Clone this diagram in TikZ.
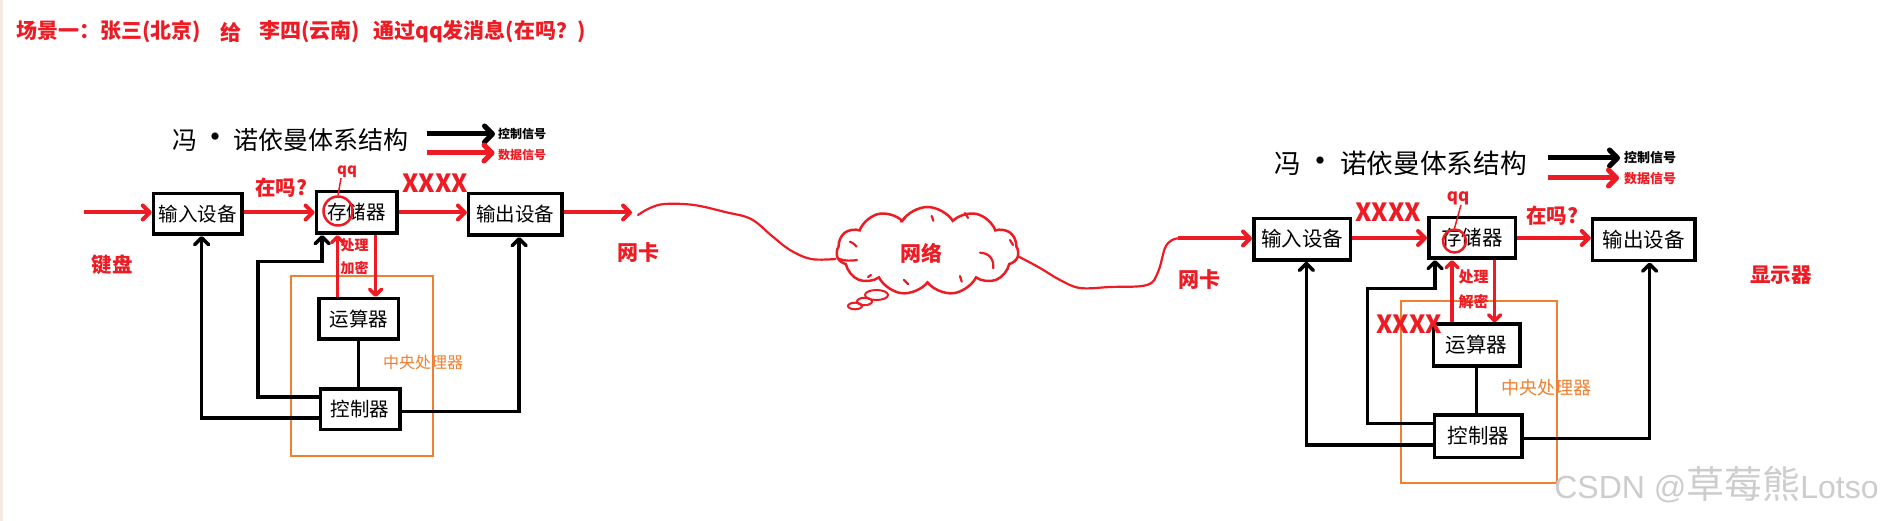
\documentclass[tikz,border=0pt]{standalone}
\usepackage{fontspec}
\usetikzlibrary{arrows.meta,shapes.symbols,calc}
\newfontfamily\cjk{Noto Sans CJK SC}
\newfontfamily\lat{Liberation Sans}
\definecolor{pred}{RGB}{237,28,36}
\definecolor{porange}{RGB}{240,128,48}
\definecolor{wmgray}{RGB}{205,205,205}
\definecolor{edgebeige}{RGB}{243,234,225}
\newcommand\fsz[1]{\fontsize{#1}{#1}\selectfont}
\newcommand\vndot{\makebox[1.44em]{\fontsize{34}{34}\selectfont •}}
\begin{document}
\begin{tikzpicture}[x=1pt,y=-1pt,
  box/.style={draw=black, line width=3.5pt, fill=white, inner sep=0pt, font=\cjk\fsz{19.5}},
  boxb/.style={box, font=\cjk\fsz{20.5}},
  redarr/.style={draw=pred, line width=4pt, -{Straight Barb[length=7pt,width=14pt,round]}},
  blkarr/.style={draw=black, line width=3.5pt, -{Straight Barb[length=7pt,width=14pt,round]}},
  blkline/.style={draw=black, line width=3pt},
  redline/.style={draw=pred, line width=3.5pt, -{Straight Barb[length=6pt,width=12pt,round]}},
  wire/.style={draw=pred, line width=2.2pt, line cap=round},
  curl/.style={draw=pred, line width=2.2pt, line cap=round},
  lbl/.style={text=pred, font=\cjk\bfseries\fsz{20.5}, inner sep=0pt},
  lblx/.style={text=pred, font=\cjk\bfseries\fsz{25}, inner sep=0pt},
  orng/.style={draw=porange, line width=2pt, inner sep=0pt},
  orngtxt/.style={text=porange, font=\cjk\fsz{16}, inner sep=0pt},
  legtxt/.style={font=\cjk\bfseries\fsz{12}, inner sep=0pt, anchor=west},
  legblk/.style={draw=black, line width=5pt, -{Straight Barb[length=8pt,width=16pt,round]}},
  legred/.style={draw=pred, line width=5pt, -{Straight Barb[length=8pt,width=16pt,round]}},
  ttl/.style={font=\cjk\fsz{25}, inner sep=0pt},
  toptxt/.style={text=pred, font=\cjk\bfseries\fsz{21}, inner sep=0pt, anchor=west}
]
\useasboundingbox (0,0) rectangle (1888,521);
\fill[white] (0,0) rectangle (1888,521);
\fill[edgebeige] (0,0) rectangle (2.5,521);

% ---------- top heading ----------
\node[toptxt] (t1) at (16,32) {场景一：张三(北京)};
\node[toptxt] (t2) at (220,32) {给};
\node[toptxt] (t3) at (259,32) {李四(云南)};
\node[toptxt] (t4) at (373,32) {通过qq发消息(在吗？)};

% ---------- left diagram ----------
\node[ttl] (ttl1) at (290.7,140) {冯\vndot 诺依曼体系结构};
\coordinate (lga1) at (426.5,134);
\coordinate (lgb1) at (426.5,153);
\node[legtxt] (lgt1) at (498,134) {控制信号};
\node[legtxt, text=pred] (lgu1) at (498,155) {数据信号};
\draw[legblk] (lga1) -- ([xshift=-3pt]lgt1.west);
\draw[legred] (lgb1) -- ($(lgb1)+(68,0)$);

\node[orng, minimum width=142pt, minimum height=180pt] (cpu1) at (362,366) {};
\node[orngtxt] (cpt1) at (423,362) {中央处理器};

\node[box, minimum width=88.5pt, minimum height=40.5pt] (in1) at (197.7,214) {输入设备};
\node[box, minimum width=80.5pt, minimum height=41.5pt] (mem1) at (356.6,212.5) {存储器};
\node[box, minimum width=93.5pt, minimum height=41.5pt] (out1) at (515.4,214.5) {输出设备};
\node[box, minimum width=79.5pt, minimum height=40.5pt] (alu1) at (358.9,319) {运算器};
\node[box, minimum width=79.5pt, minimum height=40.5pt] (ctl1) at (360,409) {控制器};

\coordinate (k1) at (83.7,212.5);
\coordinate (k2) at (632,212.5);
\draw[redarr] (k1) -- (k1 -| in1.west);
\draw[redarr] (in1.east |- mem1.west) -- (mem1.west);
\draw[redarr] (mem1.east) -- (mem1.east -| out1.west);
\draw[redarr] (out1.east |- k2) -- (k2);

\draw[blkarr] ([yshift=-9pt]ctl1.west) -| ([xshift=4pt]in1.south);
\draw[blkarr] ([yshift=12pt]ctl1.west) -| (257.8,261.7) -| ([xshift=-34.4pt]mem1.south);
\draw[blkarr] ([yshift=-2.7pt]ctl1.east) -| ([xshift=3.8pt]out1.south);
\draw[blkline] (alu1.south) -- (alu1.south |- ctl1.north);
\draw[redline] ([xshift=-21.4pt]alu1.north) -- ([xshift=-21.4pt]alu1.north |- mem1.south);
\draw[redline] ([xshift=19.1pt]mem1.south) -- ([xshift=19.1pt]mem1.south |- alu1.north);

\node[circle, draw=pred, line width=2.5pt, minimum size=29pt, inner sep=0pt] (c1) at (338,211) {};
\node[lbl, font=\cjk\bfseries\fsz{15}] (qq1) at (347,172) {qq};
\draw[draw=pred, line width=1.5pt] (c1.north) -- ([xshift=-6pt]qq1.south);

\node[lbl] (zm1) at (281,188) {在吗?};
\node[lblx] (xx1) at (435,183) {XXXX};
\node[lbl, font=\cjk\bfseries\fsz{14}] (cl1) at (354.6,245) {处理};
\node[lbl, font=\cjk\bfseries\fsz{14}] (jm1) at (354.6,268) {加密};
\node[lbl] (jp1) at (112,265) {键盘};
\node[lbl, font=\cjk\bfseries\fsz{21}] (wk1) at (638,253) {网卡};

% ---------- network ----------
\node[cloud, draw=pred, line width=2.5pt, cloud puffs=11, cloud puff arc=115, cloud ignores aspect,
      minimum width=182pt, minimum height=88pt, inner sep=0pt] (net) at (927.5,251) {};
\node[lbl, font=\cjk\bfseries\fsz{21}] (netl) at (921,253) {网络};
\draw[pred, line width=2pt] (876.5,295) ellipse [x radius=11.5pt, y radius=5pt];
\draw[pred, line width=2pt] (864.5,301.5) ellipse [x radius=7.5pt, y radius=3.7pt];
\draw[pred, line width=2pt] (855,306) ellipse [x radius=7pt, y radius=3.3pt];
% inner strokes of the cloud outline
\draw[curl] (980,252.7) .. controls (990,253) and (994,260) .. (993.3,268.3);
\draw[curl] (839,259) .. controls (845,261) and (851,261) .. (857,260);
\draw[curl] (850,241.7) .. controls (853,243) .. (856.7,246.7);
\draw[curl] (868,277) -- (871,275);
\draw[curl] (904,280) -- (908,284);
\draw[curl] (960,276) -- (961.7,281.7);
\draw[curl] (900.7,221.7) -- (905,218.3);
\draw[curl] (931.7,216) -- (933.3,220.7);
\draw[curl] (965,213) -- (968,218);
\draw[curl] (1010,240) -- (1013,245);

\coordinate (w1) at (638,215);
\coordinate (k3) at (1178,238.5);
\draw[wire] plot[smooth, tension=0.6] coordinates {(w1) (650,208) (665,204) (694,205) (725,212) (751,219) (772,236) (790,250) (811,259) ([yshift=-8pt]net.west)};
\draw[wire] plot[smooth, tension=0.6] coordinates {([yshift=-6pt]net.east) (1040,268) (1060,280) (1080,288) (1110,287) (1147,285) (1158,272) (1165,248) (1172,240) (k3)};

% ---------- right diagram ----------
\node[ttl, font=\cjk\fsz{26.7}] (ttl2) at (1401,163) {冯\vndot 诺依曼体系结构};
\coordinate (lga2) at (1548,158);
\coordinate (lgb2) at (1548,178);
\node[legtxt, font=\cjk\bfseries\fsz{13}] (lgt2) at (1624,158) {控制信号};
\node[legtxt, font=\cjk\bfseries\fsz{13}, text=pred] (lgu2) at (1624,179) {数据信号};
\draw[legblk] (lga2) -- ([xshift=-4pt]lgt2.west);
\draw[legred] (lgb2) -- ($(lgb2)+(71,0)$);

\node[orng, minimum width=156pt, minimum height=182pt] (cpu2) at (1479,392) {};
\node[orngtxt, font=\cjk\fsz{18}] (cpt2) at (1546,388) {中央处理器};

\node[boxb, minimum width=96.5pt, minimum height=41.5pt] (in2) at (1302,239.2) {输入设备};
\node[boxb, minimum width=86.5pt, minimum height=40.5pt] (mem2) at (1472,238) {存储器};
\node[boxb, minimum width=102.5pt, minimum height=41.5pt] (out2) at (1643.8,240) {输出设备};
\node[boxb, minimum width=86.5pt, minimum height=41.5pt] (alu2) at (1476.6,345) {运算器};
\node[boxb, minimum width=87.5pt, minimum height=42.5pt] (ctl2) at (1478.4,436) {控制器};

\draw[redarr] (k3) -- (k3 -| in2.west);
\draw[redarr] (in2.east |- mem2.west) -- (mem2.west);
\draw[redarr] (mem2.east) -- (mem2.east -| out2.west);

\draw[blkarr] ([yshift=-9pt]ctl2.west) -| ([xshift=4.4pt]in2.south);
\draw[blkarr] ([yshift=12.7pt]ctl2.west) -| (1367.4,288.3) -| ([xshift=-37pt]mem2.south);
\draw[blkarr] ([yshift=-2.3pt]ctl2.east) -| ([xshift=5.8pt]out2.south);
\draw[blkline] (alu2.south) -- (alu2.south |- ctl2.north);
\draw[redline] ([xshift=-24.6pt]alu2.north) -- ([xshift=-24.6pt]alu2.north |- mem2.south);
\draw[redline] ([xshift=22.7pt]mem2.south) -- ([xshift=22.7pt]mem2.south |- alu2.north);

\node[circle, draw=pred, line width=2.5pt, minimum size=23pt, inner sep=0pt] (c2) at (1454.5,241) {};
\node[lbl, font=\cjk\bfseries\fsz{17}] (qq2) at (1458,198) {qq};
\draw[draw=pred, line width=1.5pt] (c2.north) -- ([xshift=3pt]qq2.south);

\node[lblx] (xx2) at (1388,212) {XXXX};
\node[lbl] (zm2) at (1552,216) {在吗?};
\node[lbl, font=\cjk\bfseries\fsz{15}] (cl2) at (1473.5,277) {处理};
\node[lbl, font=\cjk\bfseries\fsz{15}] (jm2) at (1473.5,302) {解密};
\node[lblx] (xx3) at (1409,324) {XXXX};
\node[lbl, font=\cjk\bfseries\fsz{21}] (wk2) at (1199,280) {网卡};
\node[lbl] (xsq) at (1781,275) {显示器};

% ---------- watermark ----------
\node[text=wmgray, inner sep=0pt] (wm) at (1716.5,485) {{\lat\fsz{32}CSDN @}{\cjk\fsz{38}草莓熊}{\lat\fsz{32}Lotso}};
\end{tikzpicture}
\end{document}
